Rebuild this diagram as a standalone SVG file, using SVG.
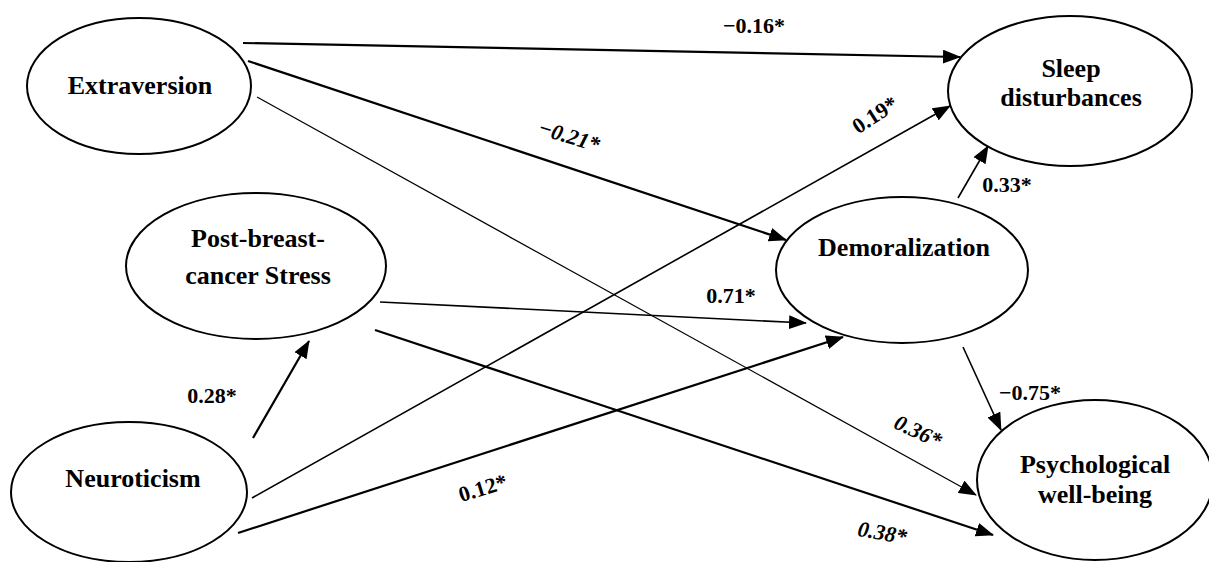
<svg xmlns="http://www.w3.org/2000/svg" width="1209" height="562" viewBox="0 0 1209 562">
<style>
.node ellipse{fill:#fff;stroke:#000;stroke-width:2}
.nt{font-family:"Liberation Serif","Times New Roman",serif;font-weight:bold;font-size:26px;fill:#000;text-anchor:middle}
.lb{font-family:"Liberation Serif","Times New Roman",serif;font-weight:bold;font-size:22px;fill:#000;text-anchor:middle}
.it{font-style:italic}
.c{stroke:#000;fill:none;marker-end:url(#ah)}
.w2{stroke-width:2.2}
.w15{stroke-width:1.6}
.w1{stroke-width:1.2}
</style>
<defs>
<marker id="ah" viewBox="0 0 18 14" refX="17" refY="7" markerWidth="18" markerHeight="14" markerUnits="userSpaceOnUse" orient="auto">
<path d="M0,0 L18,7 L0,14 z" fill="#000"/>
</marker>
</defs>
<rect width="1209" height="562" fill="#fff"/>
<g id="connectors">
<line class="c w2" x1="243" y1="43" x2="960" y2="57"/>
<line class="c w2" x1="248" y1="61" x2="786" y2="240"/>
<line class="c w1" x1="257" y1="97" x2="976" y2="495"/>
<line class="c w15" x1="380" y1="302" x2="806" y2="323"/>
<line class="c w2" x1="375" y1="330" x2="993" y2="535"/>
<line class="c w2" x1="253" y1="438" x2="309" y2="341"/>
<line class="c w15" x1="252" y1="498" x2="950" y2="106"/>
<line class="c w2" x1="238" y1="533" x2="843" y2="337"/>
<line class="c w15" x1="958" y1="198" x2="988" y2="146"/>
<line class="c w15" x1="963" y1="347" x2="1001" y2="430"/>
</g>
<g id="labels">
<text class="lb" x="754" y="33">−0.16*</text>
<text class="lb it" transform="translate(567,143) rotate(17)">−0.21*</text>
<text class="lb it" transform="translate(915,438) rotate(25)">0.36*</text>
<text class="lb" x="731" y="303">0.71*</text>
<text class="lb it" transform="translate(881,540) rotate(10)">0.38*</text>
<text class="lb" x="212" y="403">0.28*</text>
<text class="lb" transform="translate(879,121) rotate(-33)">0.19*</text>
<text class="lb" transform="translate(485,495) rotate(-17)">0.12*</text>
<text class="lb" x="1007" y="192">0.33*</text>
<text class="lb" x="1030" y="400">−0.75*</text>
</g>
<g id="extraversion" class="node">
<ellipse cx="139" cy="86" rx="112" ry="68"/>
<text class="nt" x="140" y="94">Extraversion</text>
</g>
<g id="sleep" class="node">
<ellipse cx="1070" cy="91" rx="122" ry="75"/>
<text class="nt" x="1071" y="77">Sleep</text>
<text class="nt" x="1071" y="106">disturbances</text>
</g>
<g id="stress" class="node">
<ellipse cx="256" cy="266" rx="130" ry="73"/>
<text class="nt" x="258" y="247">Post-breast-</text>
<text class="nt" x="258" y="284">cancer Stress</text>
</g>
<g id="demoralization" class="node">
<ellipse cx="902" cy="270" rx="126" ry="73"/>
<text class="nt" x="904" y="256">Demoralization</text>
</g>
<g id="neuroticism" class="node">
<ellipse cx="129" cy="492" rx="118" ry="70"/>
<text class="nt" x="133" y="487">Neuroticism</text>
</g>
<g id="wellbeing" class="node">
<ellipse cx="1095" cy="480" rx="118" ry="80"/>
<text class="nt" x="1095" y="473">Psychological</text>
<text class="nt" x="1095" y="503">well-being</text>
</g>
</svg>
